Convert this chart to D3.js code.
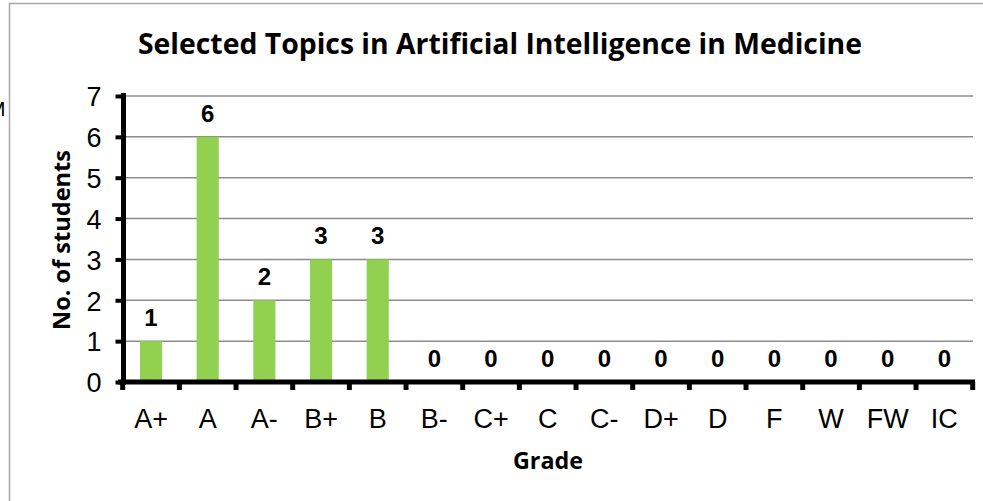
<!DOCTYPE html>
<html>
<head>
<meta charset="utf-8">
<script src="https://cdn.jsdelivr.net/npm/d3@7"></script>
<style>
  html, body { margin: 0; padding: 0; background: #fff; }
  svg { display: block; }
</style>
</head>
<body>
<script>
const grades = ["A+", "A", "A-", "B+", "B", "B-", "C+", "C", "C-", "D+", "D", "F", "W", "FW", "IC"];
const students = [1, 6, 2, 3, 3, 0, 0, 0, 0, 0, 0, 0, 0, 0, 0];
const yTicks = [0, 1, 2, 3, 4, 5, 6, 7];
const titleText = "Selected Topics in Artificial Intelligence in Medicine";
const yTitle = "No. of students";
const xTitle = "Grade";

const W = 983, H = 501;
const svg = d3.select("body").append("svg").attr("width", W).attr("height", H);

// frame border (partial, as in reference)
svg.append("line").attr("x1", 9.5).attr("x2", 9.5).attr("y1", 3).attr("y2", H)
  .attr("stroke", "#a6a6a6").attr("stroke-width", 1.5);
svg.append("line").attr("x1", 9).attr("x2", W).attr("y1", 3.5).attr("y2", 3.5)
  .attr("stroke", "#a6a6a6").attr("stroke-width", 1.5);
// stray clipped text at left edge
svg.append("text").attr("x", -12).attr("y", 116).text("M")
  .attr("font-family", "Liberation Sans, Arial, sans-serif").attr("font-size", 21).attr("fill", "#000");

const x = d3.scaleBand().domain(grades).range([122.7, 972.7]).paddingInner(0.61).paddingOuter(0.305);
const y = d3.scaleLinear().domain([0, 7]).range([382, 96]);

// gridlines
svg.append("g").selectAll("line").data(yTicks.filter(d => d > 0)).join("line")
  .attr("x1", 124).attr("x2", 973)
  .attr("y1", d => y(d)).attr("y2", d => y(d))
  .attr("stroke", "#8c8c8c").attr("stroke-width", 1.5);

// bars
svg.append("g").selectAll("rect").data(students).join("rect")
  .attr("x", (d, i) => x(grades[i]))
  .attr("y", d => y(d))
  .attr("width", x.bandwidth())
  .attr("height", d => y(0) - y(d))
  .attr("fill", "#92d050");

// data labels
svg.append("g").selectAll("text").data(students).join("text")
  .attr("x", (d, i) => x(grades[i]) + x.bandwidth() / 2)
  .attr("y", d => y(d) - 15)
  .attr("text-anchor", "middle")
  .attr("font-family", "Liberation Sans, Arial, sans-serif")
  .attr("font-weight", "bold")
  .attr("font-size", 24)
  .attr("fill", "#000")
  .text(d => d);

// y axis
const yAxis = d3.axisLeft(y).tickValues(yTicks).tickSize(8).tickPadding(14).tickFormat(d3.format("d"));
const gy = svg.append("g").attr("transform", "translate(123.5,0)").call(yAxis);
gy.select(".domain").attr("stroke", "#000").attr("stroke-width", 5).attr("d", "M0,93V385");
gy.selectAll(".tick line").attr("stroke", "#000").attr("stroke-width", 4);
gy.selectAll(".tick text").attr("font-family", "Liberation Sans, Arial, sans-serif")
  .attr("font-size", 27).attr("fill", "#000").attr("dy", "0.36em");

// x axis (ticks at category boundaries)
const boundaries = grades.map(g => x(g) - x.step() * x.paddingInner() / 2).concat([972.7]);
const gx = svg.append("g").attr("transform", "translate(0,382)");
gx.append("line").attr("x1", 118).attr("x2", 975).attr("y1", 0).attr("y2", 0)
  .attr("stroke", "#000").attr("stroke-width", 5);
gx.selectAll("line.tk").data(boundaries).join("line").attr("class", "tk")
  .attr("x1", d => d).attr("x2", d => d).attr("y1", 0).attr("y2", 8)
  .attr("stroke", "#000").attr("stroke-width", 5);
gx.selectAll("text").data(grades).join("text")
  .attr("x", d => x(d) + x.bandwidth() / 2)
  .attr("y", 46)
  .attr("text-anchor", "middle")
  .attr("font-family", "Liberation Sans, Arial, sans-serif")
  .attr("font-size", 27)
  .attr("fill", "#000")
  .text(d => d);

// titles
svg.append("text").attr("x", 500).attr("y", 54).attr("text-anchor", "middle")
  .attr("font-family", "'Open Sans', Lato, sans-serif").attr("font-weight", "bold")
  .attr("font-size", 28).attr("fill", "#000")
  .attr("textLength", 724).attr("lengthAdjust", "spacingAndGlyphs")
  .text(titleText);

svg.append("text").attr("transform", "translate(70,240) rotate(-90)").attr("text-anchor", "middle")
  .attr("font-family", "'Open Sans', Lato, sans-serif").attr("font-weight", "bold")
  .attr("font-size", 24).attr("fill", "#000")
  .attr("textLength", 180).attr("lengthAdjust", "spacingAndGlyphs")
  .text(yTitle);

svg.append("text").attr("x", 548).attr("y", 469).attr("text-anchor", "middle")
  .attr("font-family", "'Open Sans', Lato, sans-serif").attr("font-weight", "bold")
  .attr("font-size", 24).attr("fill", "#000")
  .attr("textLength", 70).attr("lengthAdjust", "spacingAndGlyphs")
  .text(xTitle);
</script>
</body>
</html>
